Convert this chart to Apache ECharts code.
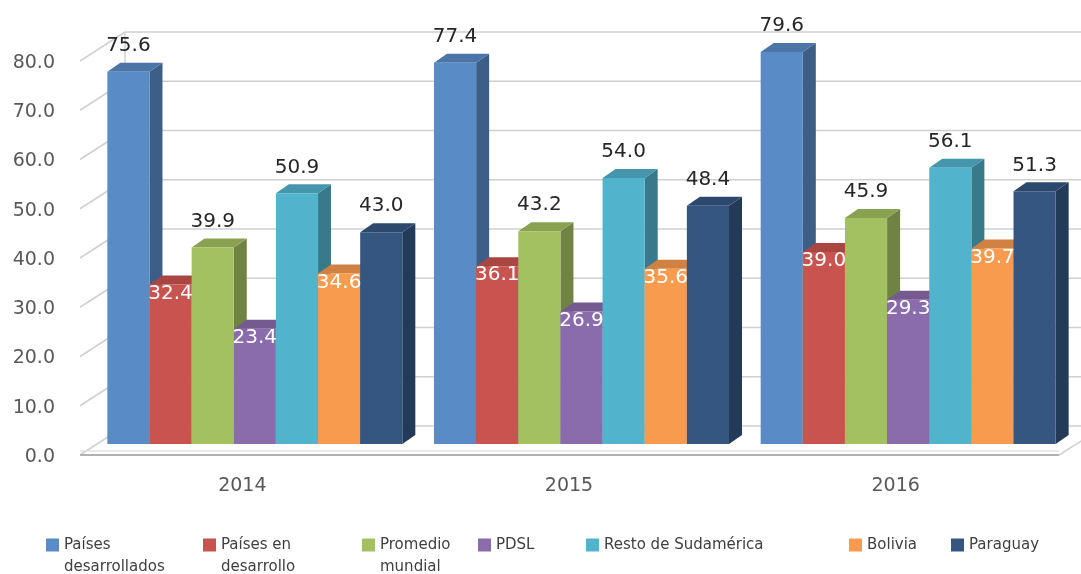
<!DOCTYPE html>
<html>
<head>
<meta charset="utf-8">
<script src="https://cdn.jsdelivr.net/npm/echarts@6/dist/echarts.min.js"></script>
<style>
  html, body { margin: 0; padding: 0; background: #ffffff; }
  #chart { width: 1081px; height: 574px; }
</style>
</head>
<body>
<div id="chart"></div>
<script>
// ---- data ----
const years = ['2014', '2015', '2016'];
const seriesNames = ['Países desarrollados', 'Países en desarrollo', 'Promedio mundial', 'PDSL',
                     'Resto de Sudamérica', 'Bolivia', 'Paraguay'];
const legendText = ['Países\ndesarrollados', 'Países en\ndesarrollo', 'Promedio\nmundial', 'PDSL',
                    'Resto de Sudamérica', 'Bolivia', 'Paraguay'];
const paisesDesarrollados = [75.6, 77.4, 79.6];
const paisesEnDesarrollo  = [32.4, 36.1, 39.0];
const promedioMundial     = [39.9, 43.2, 45.9];
const pdsl                = [23.4, 26.9, 29.3];
const restoSudamerica     = [50.9, 54.0, 56.1];
const bolivia             = [34.6, 35.6, 39.7];
const paraguay            = [43.0, 48.4, 51.3];
const yTicks = [0, 10, 20, 30, 40, 50, 60, 70, 80];

const allValues = [paisesDesarrollados, paisesEnDesarrollo, promedioMundial, pdsl,
                   restoSudamerica, bolivia, paraguay];

// ---- styling ----
const colors = ['#598bc7', '#c9534f', '#a3c161', '#8a6bab', '#52b3cd', '#f99b4f', '#345681'];
const whiteLabel = [false, true, false, true, false, true, false];
const legendLeft = [46, 203, 362, 478, 586, 849, 951];
const FONT = '"DejaVu Sans", sans-serif';

// 3D geometry (pixels)
const BAR_FRAC = 0.129;     // bar width as share of a category band
const PLANE_DX = 12.5;      // bar plane offset from axis plane
const PLANE_DY = -13;
const DEPTH_DX = 13;        // bar depth
const DEPTH_DY = -9;
const BACK_DX = 46;         // back wall offset from axis plane
const BACK_DY = -31;

function shade(hex, f) {
  const n = parseInt(hex.slice(1), 16);
  const r = Math.round(((n >> 16) & 255) * f);
  const g = Math.round(((n >> 8) & 255) * f);
  const b = Math.round((n & 255) * f);
  return 'rgb(' + r + ',' + g + ',' + b + ')';
}

function barRenderer(k) {
  const color = colors[k];
  return function (params, api) {
    const idx = api.value(0);
    const v = api.value(1);
    const band = api.size([1, 0])[0];
    const w = band * BAR_FRAC;
    const base = api.coord([idx, 0]);
    const top = api.coord([idx, v]);
    const x0 = base[0] + PLANE_DX - 3.5 * w + k * w;
    const yb = base[1] + PLANE_DY;
    const yt = top[1] + PLANE_DY;
    const inside = whiteLabel[k];
    return {
      type: 'group',
      children: [
        { type: 'polygon',
          shape: { points: [[x0 + w, yt], [x0 + w + DEPTH_DX, yt + DEPTH_DY],
                            [x0 + w + DEPTH_DX, yb + DEPTH_DY], [x0 + w, yb]] },
          style: { fill: shade(color, 0.68) } },
        { type: 'polygon',
          shape: { points: [[x0, yt], [x0 + DEPTH_DX, yt + DEPTH_DY],
                            [x0 + w + DEPTH_DX, yt + DEPTH_DY], [x0 + w, yt]] },
          style: { fill: shade(color, 0.84) } },
        { type: 'rect', shape: { x: x0, y: yt, width: w, height: yb - yt },
          style: { fill: color } },
        { type: 'text', z2: 100,
          style: { text: v.toFixed(1), x: x0 + w / 2, y: inside ? yt + 9 : yt - 26,
                   align: 'center', verticalAlign: 'middle',
                   fill: inside ? '#ffffff' : '#262626',
                   font: '20px ' + FONT } }
      ]
    };
  };
}

// walls: back-wall gridlines, left-wall depth lines and the floor
function wallRenderer(params, api) {
  const v = api.value(1);
  const y = api.coord([0, v])[1];
  const cs = params.coordSys;
  const left = cs.x;
  const right = cs.x + cs.width;
  const grid = '#d0d0d0';
  const children = [
    { type: 'line', shape: { x1: left + BACK_DX, y1: y + BACK_DY, x2: right + 60, y2: y + BACK_DY },
      style: { stroke: grid, lineWidth: 1.5 } },
    { type: 'line', shape: { x1: left + 1, y1: y - 2, x2: left + BACK_DX, y2: y + BACK_DY },
      style: { stroke: grid, lineWidth: 1.5 } }
  ];
  if (v === 0) {
    children.push(
      { type: 'line', shape: { x1: left + 1, y1: y - 6, x2: right, y2: y - 6 },
        style: { stroke: '#e2e2e2', lineWidth: 1.5 } },
      { type: 'line', shape: { x1: left + 1, y1: y - 2, x2: right, y2: y - 2 },
        style: { stroke: '#b2b2b2', lineWidth: 2 } },
      { type: 'line', shape: { x1: right, y1: y - 2, x2: right + BACK_DX, y2: y + BACK_DY },
        style: { stroke: grid, lineWidth: 1.5 } },
      { type: 'line', shape: { x1: left + BACK_DX, y1: y + BACK_DY,
                               x2: left + BACK_DX, y2: api.coord([0, 80])[1] + BACK_DY },
        style: { stroke: grid, lineWidth: 1.5 } }
    );
  }
  return { type: 'group', children: children };
}

const series = [{
  type: 'custom',
  name: '_walls',
  z: 1,
  silent: true,
  renderItem: wallRenderer,
  encode: { x: 0, y: 1 },
  data: yTicks.map(v => [0, v])
}];
allValues.forEach((vals, k) => {
  series.push({
    type: 'custom',
    name: seriesNames[k],
    z: 2,
    itemStyle: { color: colors[k] },
    renderItem: barRenderer(k),
    encode: { x: 0, y: 1 },
    data: vals.map((v, i) => [i, v])
  });
});

// two-line legend entries get a leading blank line so the first line sits beside the swatch
const legends = seriesNames.map((name, k) => {
  const twoLine = legendText[k].indexOf('\n') >= 0;
  return {
    data: [name],
    left: legendLeft[k],
    top: twoLine ? 512 : 534,
    padding: 0,
    icon: 'rect',
    itemWidth: 13,
    itemHeight: 13,
    selectedMode: false,
    formatter: () => (twoLine ? '\n' : '') + legendText[k],
    textStyle: { fontFamily: FONT, fontSize: 15, color: '#404040', lineHeight: 22 }
  };
});

const chart = echarts.init(document.getElementById('chart'), null, { renderer: 'canvas' });
chart.setOption({
  backgroundColor: '#ffffff',
  animation: false,
  grid: { left: 79, right: 22, top: 63, bottom: 117 },
  xAxis: {
    type: 'category',
    data: years,
    axisLine: { show: false },
    axisTick: { show: false },
    axisLabel: { margin: 20, color: '#595959', fontFamily: FONT, fontSize: 19 }
  },
  yAxis: {
    type: 'value',
    min: 0, max: 80, interval: 10,
    axisLine: { show: false },
    axisTick: { show: false },
    splitLine: { show: false },
    axisLabel: { margin: 24, color: '#595959', fontFamily: FONT, fontSize: 19,
                 formatter: v => v.toFixed(1) }
  },
  legend: legends,
  series: series
});
</script>
</body>
</html>
